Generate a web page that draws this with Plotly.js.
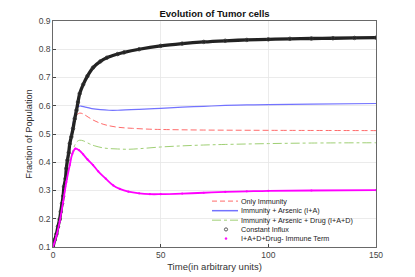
<!DOCTYPE html>
<html><head><meta charset="utf-8">
<script src="https://cdn.plot.ly/plotly-3.0.1.min.js"></script>
<style>html,body{margin:0;padding:0;background:#fff}#c{width:415px;height:277px}</style>
</head><body><div id="c"></div>
<script>
// Only Immunity
const tRed = [0,3,6,8.5,10,11,12.4,14,16.3,19,22,25,30,37,45,50,70,100,150];
const yRed = [0.1,0.2,0.36,0.49,0.55,0.567,0.574,0.571,0.56,0.548,0.538,0.531,0.524,0.52,0.517,0.516,0.514,0.513,0.512];
// Immunity + Arsenic (I+A)
const tBlue = [0,3,6,8.5,10.1,11,12,13,15,18,22,26,30,40,50,60,70,80,90,100,120,150];
const yBlue = [0.1,0.2,0.36,0.5,0.566,0.59,0.598,0.599,0.595,0.59,0.586,0.584,0.584,0.587,0.591,0.595,0.598,0.601,0.603,0.604,0.606,0.608];
// Immunity + Arsenic + Drug (I+A+D)
const tGreen = [0,3,6,8.5,10.1,11.3,12.4,14,17,19.4,24,30,35,40,50,60,70,80,100,120,150];
const yGreen = [0.1,0.195,0.33,0.42,0.46,0.474,0.478,0.476,0.465,0.458,0.45,0.447,0.446,0.448,0.454,0.458,0.461,0.463,0.466,0.468,0.469];
// Constant Influx
const tBlack = [0,0.8,1.6,2.3,3.1,3.6,4.2,4.7,5.1,5.8,6.2,6.7,7.3,7.8,8.5,9.3,10.1,10.9,11.6,12.4,14,16,18.6,22,25,30,33,40,50,60,70,80,90,100,110,120,130,140,150];
const yBlack = [0.1,0.125,0.146,0.172,0.198,0.225,0.254,0.28,0.313,0.342,0.378,0.407,0.434,0.466,0.49,0.519,0.554,0.584,0.613,0.643,0.675,0.705,0.735,0.757,0.77,0.783,0.789,0.8,0.812,0.82,0.826,0.83,0.833,0.835,0.837,0.838,0.839,0.840,0.841];
// I+A+D+Drug- Immune Term
const tMag = [0,1.6,3.1,4.7,6.2,7.8,9,10.4,12,14,16,18.6,21,24.5,28,31,35,40,45,50,60,70,80,90,100,120,150];
const yMag = [0.1,0.14,0.19,0.26,0.33,0.39,0.43,0.448,0.443,0.428,0.41,0.39,0.368,0.342,0.318,0.306,0.296,0.29,0.287,0.287,0.289,0.292,0.295,0.297,0.299,0.3,0.301];

const legendNames = ['Only Immunity','Immunity + Arsenic (I+A)','Immunity + Arsenic + Drug (I+A+D)','Constant Influx','I+A+D+Drug- Immune Term'];

const F = 'Liberation Sans, Arial, sans-serif';
const C = {red:'#ff6b6b',blue:'#7373ff',green:'#9fcf74',black:'#333',mag:'#ff00ff'};
const traces = [
  {x:tRed,y:yRed,mode:'lines',line:{color:C.red,width:1,dash:'6px,3px',shape:'spline'}},
  {x:tBlue,y:yBlue,mode:'lines',line:{color:C.blue,width:1.2,shape:'spline'}},
  {x:tGreen,y:yGreen,mode:'lines',line:{color:C.green,width:1,dash:'dashdot',shape:'spline'}},
  {x:tBlack,y:yBlack,mode:'lines',line:{color:'#222',width:3.3,shape:'spline'}},
  {x:tBlack,y:yBlack,mode:'markers',marker:{symbol:'circle-open',size:3.5,color:'#333',line:{width:0.8,color:'#333'}}},
  {x:tMag,y:yMag,mode:'lines',line:{color:C.mag,width:1.8,shape:'spline'}},
  {x:tMag,y:yMag,mode:'markers',marker:{symbol:'circle',size:2.2,color:C.mag}}
];

// custom legend (pixel layout -> paper coords)
const M = {l:53,r:39,t:20.5,b:30};
const PW = 415-M.l-M.r, PH = 277-M.t-M.b;
const px = v => (v-M.l)/PW, py = v => (277-M.b-v)/PH;
const rowsY = [201,210.6,220.1,229.4,238.6];
const annotations = legendNames.map((n,i)=>({xref:'paper',yref:'paper',x:px(239),y:py(rowsY[i]),xanchor:'left',yanchor:'middle',text:n,showarrow:false,font:{family:F,size:7.2,color:'#222'}}));
const shapes = [
  {type:'line',xref:'paper',yref:'paper',x0:px(212),x1:px(238),y0:py(rowsY[0]),y1:py(rowsY[0]),line:{color:C.red,width:1,dash:'5px,3px'}},
  {type:'line',xref:'paper',yref:'paper',x0:px(212),x1:px(238),y0:py(rowsY[1]),y1:py(rowsY[1]),line:{color:C.blue,width:1.5}},
  {type:'line',xref:'paper',yref:'paper',x0:px(212),x1:px(238),y0:py(rowsY[2]),y1:py(rowsY[2]),line:{color:C.green,width:1,dash:'dashdot'}},
  {type:'circle',xref:'paper',yref:'paper',xsizemode:'pixel',ysizemode:'pixel',xanchor:px(226),yanchor:py(rowsY[3]),x0:-1.6,x1:1.6,y0:-1.6,y1:1.6,line:{color:'#333',width:0.8}},
  {type:'circle',xref:'paper',yref:'paper',xsizemode:'pixel',ysizemode:'pixel',xanchor:px(226),yanchor:py(rowsY[4]),x0:-1,x1:1,y0:-1,y1:1,fillcolor:C.mag,line:{color:C.mag,width:0.5}}
];

const ax = {showline:true,mirror:true,linecolor:'#444',linewidth:0.8,gridcolor:'#e6e6e6',gridwidth:0.8,zeroline:false,ticks:'inside',ticklen:3,tickcolor:'#444',tickfont:{family:F,size:8.5,color:'#444'}};
const layout = {
  width:415,height:277,margin:M,showlegend:false,
  paper_bgcolor:'#fff',plot_bgcolor:'#fff',
  title:{text:'<b>Evolution of Tumor cells</b>',font:{family:F,size:9.5,color:'#111'},x:0.517,xanchor:'center',y:0.95,yanchor:'middle'},
  xaxis:Object.assign({},ax,{range:[0,150],dtick:50,tick0:0,title:{text:'Time(in arbitrary units)',font:{family:F,size:9.5,color:'#333'},standoff:4}}),
  yaxis:Object.assign({},ax,{range:[0.1,0.9],dtick:0.1,tick0:0.1,tickformat:'.1f',title:{text:'Fraction of Population',font:{family:F,size:9.2,color:'#333'},standoff:4}}),
  annotations:annotations,shapes:shapes
};
Plotly.newPlot('c',traces,layout,{staticPlot:true,displayModeBar:false});
</script></body></html>
